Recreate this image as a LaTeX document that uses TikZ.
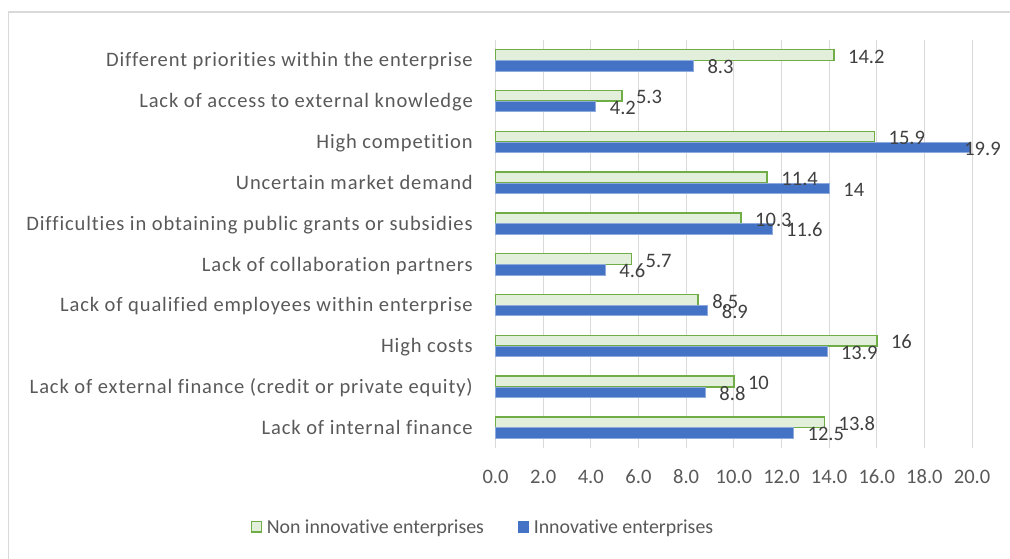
\documentclass[tikz,border=0pt]{standalone}
\usepackage{fontspec}
\setmainfont[Ligatures=NoCommon]{Carlito}
\newfontfamily\widefont[LetterSpace=4.3,Ligatures=NoCommon]{Carlito}
\definecolor{txt}{HTML}{595959}
\definecolor{lbl}{HTML}{404040}
\definecolor{gridc}{HTML}{D9D9D9}
\definecolor{gline}{HTML}{70AD47}
\definecolor{gfill}{HTML}{E2EFDA}
\definecolor{bfill}{HTML}{4472C4}
\definecolor{bline}{HTML}{8EA9DB}
\begin{document}
\begin{tikzpicture}[x=0.75pt,y=-0.75pt,
  font=\fontsize{15.4}{18}\selectfont,
  frame/.style={draw=gridc, line width=1pt},
  gridline/.style={draw=gridc, line width=0.8pt},
  gbar/.style={draw=gline, fill=gfill, line width=1.1pt},
  bbar/.style={fill=bfill, draw=bline, line width=0.3pt},
  catlbl/.style={anchor=base east, inner sep=0pt, text=txt, font=\widefont\fontsize{15.4}{18}\selectfont},
  vallbl/.style={anchor=base west, inner sep=0pt, text=lbl},
  axlbl/.style={anchor=base, inner sep=0pt, text=txt},
  leglbl/.style={anchor=base west, inner sep=0pt, text=txt, font=\fontsize{14.9}{18}\selectfont}]
\useasboundingbox (0,0) rectangle (1010,559);
\clip (0,0) rectangle (1010,559);
% chart frame
\draw[frame] (8.7,600) -- (8.7,12) -- (1100,12);
% grid lines and axis labels
\foreach \v in {0,...,10}{
  \pgfmathtruncatemacro{\w}{2*\v}
  \draw[gridline] ({495.5+\v*47.66},40) -- ({495.5+\v*47.66},448);
  \node[axlbl] (ax\v) at ({495.5+\v*47.66},483.3) {\w.0};
}
% bars
\foreach \i/\g/\b/\name in {
  1/14.2/8.3/{Different priorities within the enterprise},
  2/5.3/4.2/{Lack of access to external knowledge},
  3/15.9/19.9/{High competition},
  4/11.4/14/{Uncertain market demand},
  5/10.3/11.6/{Difficulties in obtaining public grants or subsidies},
  6/5.7/4.6/{Lack of collaboration partners},
  7/8.5/8.9/{Lack of qualified employees within enterprise},
  8/16/13.9/{High costs},
  9/10/8.8/{Lack of external finance (credit or private equity)},
  10/13.8/12.5/{Lack of internal finance}}{
  \pgfmathsetmacro{\yc}{60.4+40.81*(\i-1)}
  \pgfmathsetmacro{\ge}{495.5+\g*23.83}
  \pgfmathsetmacro{\be}{495.5+\b*23.83}
  \pgfmathsetmacro{\gx}{min(\ge+14,964)}
  \pgfmathsetmacro{\bx}{min(\be+14,964)}
  \draw[gbar] (495.5,\yc-10.7) rectangle (\ge,\yc);
  \draw[bbar] (495.5,\yc) rectangle (\be,\yc+10.4);
  \node[catlbl] (cat\i) at (473,\yc+6.6) {\name};
  \node[vallbl] (gv\i) at (\gx,\yc-5.35+1.5+6.6) {\g};
  \node[vallbl] (bv\i) at (\bx,\yc+5.2+1.5+6.6) {\b};
}
% legend
\draw[gbar] (251.5,521.5) rectangle (261.5,532);
\node[leglbl] (leg1) at (266.5,533.6) {Non innovative enterprises};
\fill[bfill] (518,521) rectangle (529,532.5);
\node[leglbl] (leg2) at (533.5,533.6) {Innovative enterprises};
\end{tikzpicture}
\end{document}
